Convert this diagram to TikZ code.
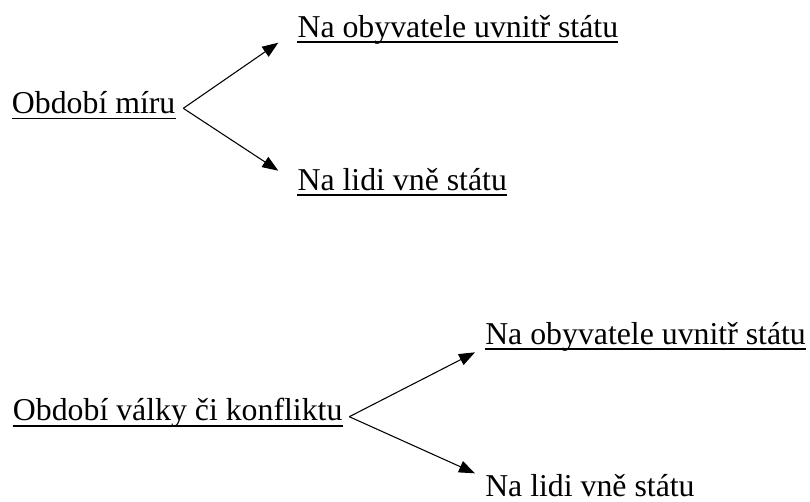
\documentclass[tikz,border=0pt]{standalone}
\usepackage{fontspec}
\setmainfont{Liberation Serif}
\usetikzlibrary{arrows.meta}
\begin{document}
\begin{tikzpicture}[x=0.75pt,y=-0.75pt,
  txt/.style={font=\fontsize{23.85}{28}\selectfont, inner sep=0pt, anchor=base west},
  uline/.style={line width=1.4pt},
  conn/.style={line width=0.8pt, -{Triangle[length=12pt,width=9pt]}}]
\useasboundingbox (0,0) rectangle (810,501);
\fill[white] (0,0) rectangle (810,501);
% top group
\node[txt] (peace) at (11.7,113.3) {Období míru};
\node[txt] (pin) at (297.3,37) {Na obyvatele uvnitř státu};
\node[txt] (pout) at (297.3,190) {Na lidi vně státu};
% bottom group
\node[txt] (war) at (12.7,420.7) {Období války či konfliktu};
\node[txt] (win) at (485,344) {Na obyvatele uvnitř státu};
\node[txt] (wout) at (485,496.3) {Na lidi vně státu};
% underlines (the last text's underline lies below the picture's edge)
\foreach \n in {peace,pin,pout,war,win}
  \draw[uline] ([yshift=-3.9pt]\n.base west) -- ([yshift=-3.9pt]\n.base east);
% connectors
\coordinate (v1) at (183.3,108.3);
\coordinate (t1) at (278.3,42.7);
\coordinate (t2) at (278.3,170.7);
\coordinate (v2) at (349.3,416.7);
\coordinate (t3) at (475,352.3);
\coordinate (t4) at (475,473.3);
\draw[conn] (v1) -- (t1);
\draw[conn] (v1) -- (t2);
\draw[conn] (v2) -- (t3);
\draw[conn] (v2) -- (t4);
\end{tikzpicture}
\end{document}
